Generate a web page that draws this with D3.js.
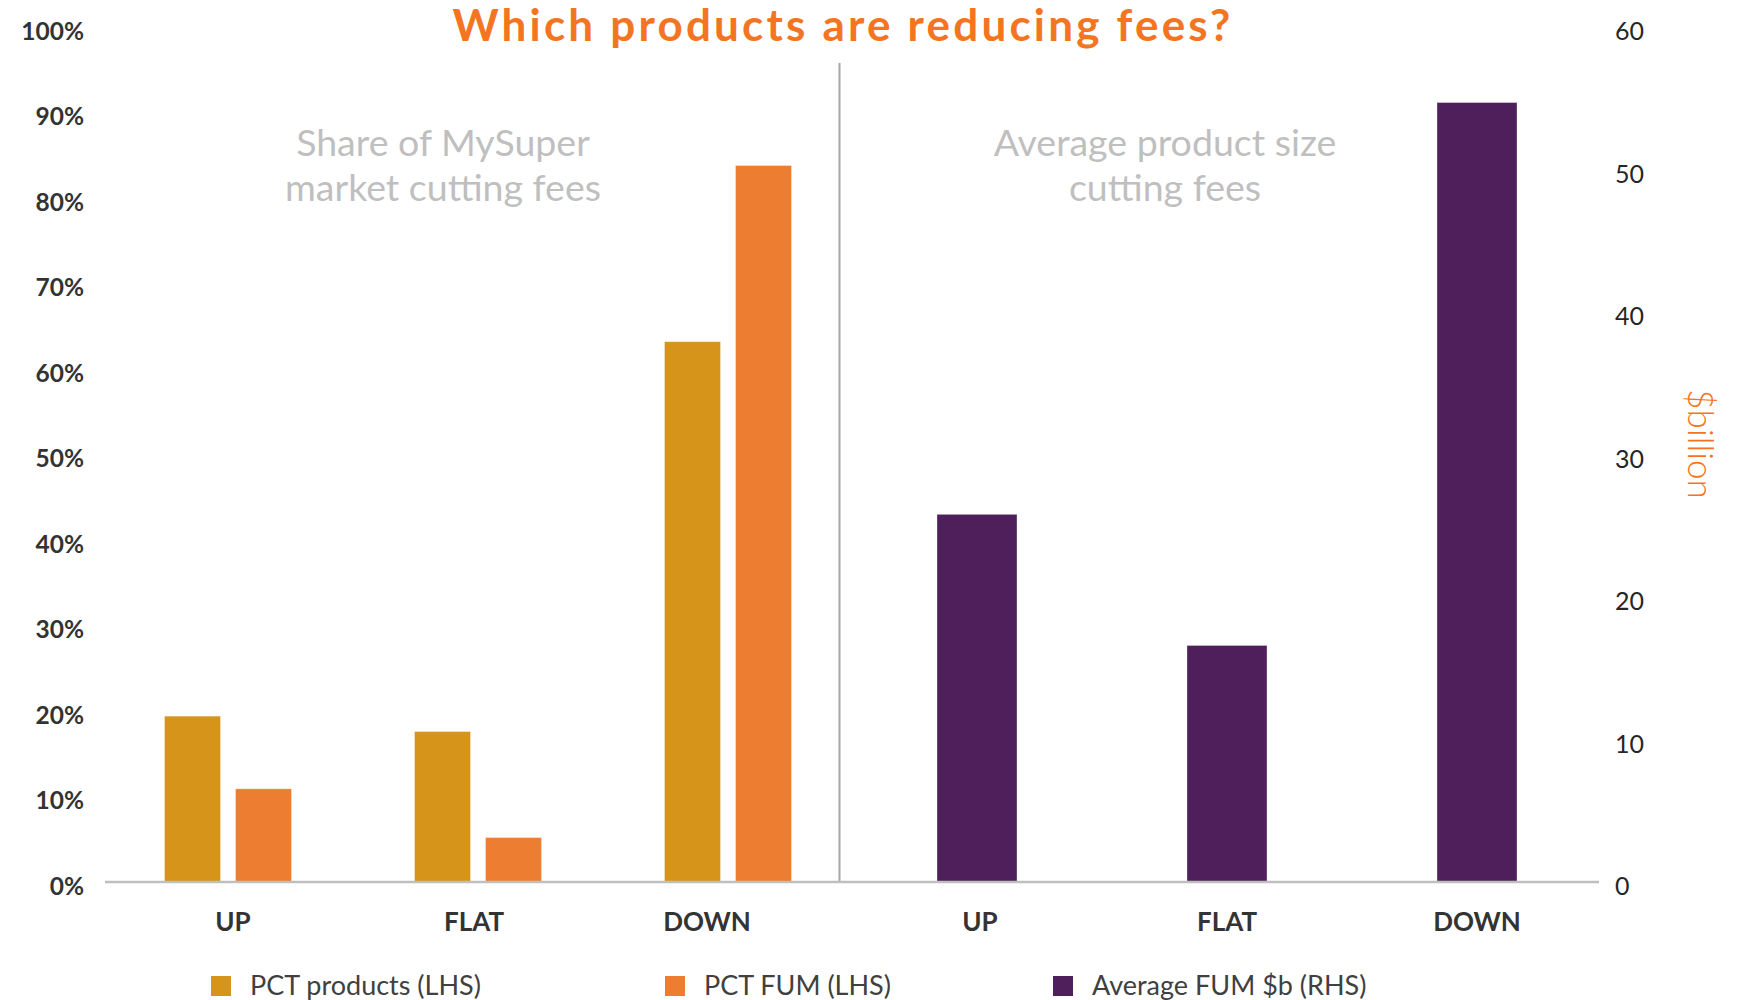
<!DOCTYPE html>
<html>
<head>
<meta charset="utf-8">
<script src="https://cdn.jsdelivr.net/npm/d3@7"></script>
<style>
	body{margin:0;background:#fff;}
	svg{display:block;font-family:Lato,"Open Sans",sans-serif;}
</style>
</head>
<body>
<svg id="chart" width="1739" height="1000"></svg>
<script>
// data
const categories = ["UP", "FLAT", "DOWN"];
const pctProducts = [19.4, 17.6, 63.2];   // % (LHS)
const pctFum = [10.9, 5.2, 83.8];         // % (LHS)
const avgFum = [25.8, 16.6, 54.7];        // $b (RHS)
const leftTicks = [0, 10, 20, 30, 40, 50, 60, 70, 80, 90, 100];
const rightTicks = [0, 10, 20, 30, 40, 50, 60];
const seriesNames = ["PCT products (LHS)", "PCT FUM (LHS)", "Average FUM $b (RHS)"];
const seriesColors = ["#D6941A", "#ED7D31", "#4E1F5B"];

const svg = d3.select("#chart");
const baseY = 882, topY = 27;

//scales
const yL = d3.scaleLinear().domain([0, 100]).range([baseY, topY]);
const yR = d3.scaleLinear().domain([0, 60]).range([baseY, topY]);
const xL = d3.scaleBand().domain(categories).range([103, 853]);
const xSub = d3.scaleBand().domain([0, 1]).range([0, xL.bandwidth()]).paddingInner(0.211).paddingOuter(0.866);
const xR = d3.scaleBand().domain(categories).range([852, 1602]).paddingInner(0.68).paddingOuter(0.34);

//title
svg.append("text")
	.attr("x", 843).attr("y", 41)
	.attr("text-anchor", "middle")
	.attr("font-size", 44).attr("font-weight", "bold")
	.attr("letter-spacing", 3.2)
	.attr("fill", "#F47521")
	.text("Which products are reducing fees?");

//panel subtitles
const subs = [
	{x: 443, lines: ["Share of MySuper", "market cutting fees"]},
	{x: 1165, lines: ["Average product size", "cutting fees"]}
];
subs.forEach(s => {
	svg.append("g").selectAll("text")
		.data(s.lines).enter().append("text")
		.attr("x", s.x).attr("y", (d, i) => 156 + i * 45)
		.attr("text-anchor", "middle")
		.attr("font-size", 37.5).attr("fill", "#BFBFBF")
		.text(d => d);
});

//divider
svg.append("line")
	.attr("x1", 839.5).attr("x2", 839.5)
	.attr("y1", 63).attr("y2", baseY)
	.attr("stroke", "#A6A6A6").attr("stroke-width", 2);

//left bars
const groups = svg.append("g").selectAll("g")
	.data(categories).enter().append("g")
	.attr("transform", d => `translate(${xL(d)},0)`);
groups.selectAll("rect")
	.data((d, i) => [pctProducts[i], pctFum[i]])
	.enter().append("rect")
	.attr("x", (d, j) => xSub(j))
	.attr("width", xSub.bandwidth())
	.attr("y", d => yL(d))
	.attr("height", d => baseY - yL(d))
	.attr("fill", (d, j) => seriesColors[j])
	.attr("stroke", "#fff").attr("stroke-opacity", 0.35).attr("stroke-width", 1);

//right bars
svg.append("g").selectAll("rect")
	.data(avgFum).enter().append("rect")
	.attr("x", (d, i) => xR(categories[i]))
	.attr("width", xR.bandwidth())
	.attr("y", d => yR(d))
	.attr("height", d => baseY - yR(d))
	.attr("fill", seriesColors[2])
	.attr("stroke", "#fff").attr("stroke-opacity", 0.35).attr("stroke-width", 1);

//baseline
svg.append("line")
	.attr("x1", 105).attr("x2", 1599)
	.attr("y1", baseY).attr("y2", baseY)
	.attr("stroke", "#BFBFBF").attr("stroke-width", 2.5);

//y axes
const axL = svg.append("g")
	.attr("transform", "translate(84,0)")
	.call(d3.axisLeft(yL).tickValues(leftTicks).tickSize(0).tickPadding(0).tickFormat(d => d + "%"));
axL.select(".domain").remove();
axL.selectAll("text")
	.attr("font-family", "Lato, sans-serif").attr("font-size", 24.5).attr("font-weight", "bold")
	.attr("fill", "#333").attr("dy", "0.5em");

const axR = svg.append("g")
	.attr("transform", "translate(1615,0)")
	.call(d3.axisRight(yR).tickValues(rightTicks).tickSize(0).tickPadding(0));
axR.select(".domain").remove();
axR.selectAll("text")
	.attr("font-family", "Lato, sans-serif").attr("font-size", 25)
	.attr("fill", "#262626").attr("dy", "0.5em");

//x axes labels (left panel labels sit a little off the bar groups)
const labelShift = {L: [5, -4, -21], R: [3, 0, 0]};
[["L", xL], ["R", xR]].forEach(([k, sc]) => {
	const ax = svg.append("g")
		.attr("transform", `translate(0,${baseY})`)
		.call(d3.axisBottom(sc).tickSize(0).tickPadding(31));
	ax.select(".domain").remove();
	ax.selectAll("text")
		.attr("dx", (d, i) => labelShift[k][i])
		.attr("font-family", "Lato, sans-serif").attr("font-size", 26).attr("font-weight", "bold")
		.attr("fill", "#333");
});

//right axis title
svg.append("text")
	.attr("transform", "translate(1702,444) rotate(90)")
	.attr("text-anchor", "middle").attr("dominant-baseline", "central")
	.attr("font-size", 35).attr("font-weight", 300)
	.attr("fill", "#F47521")
	.text("$billion");

//legend
const legendX = [211, 665, 1053];
const leg = svg.append("g").selectAll("g")
	.data(seriesNames).enter().append("g")
	.attr("transform", (d, i) => `translate(${legendX[i]},976)`);
leg.append("rect")
	.attr("width", 20).attr("height", 20)
	.attr("fill", (d, i) => seriesColors[i]);
leg.append("text")
	.attr("x", 39).attr("y", 19)
	.attr("font-size", 27).attr("fill", "#404040")
	.text(d => d);
</script>
</body>
</html>
